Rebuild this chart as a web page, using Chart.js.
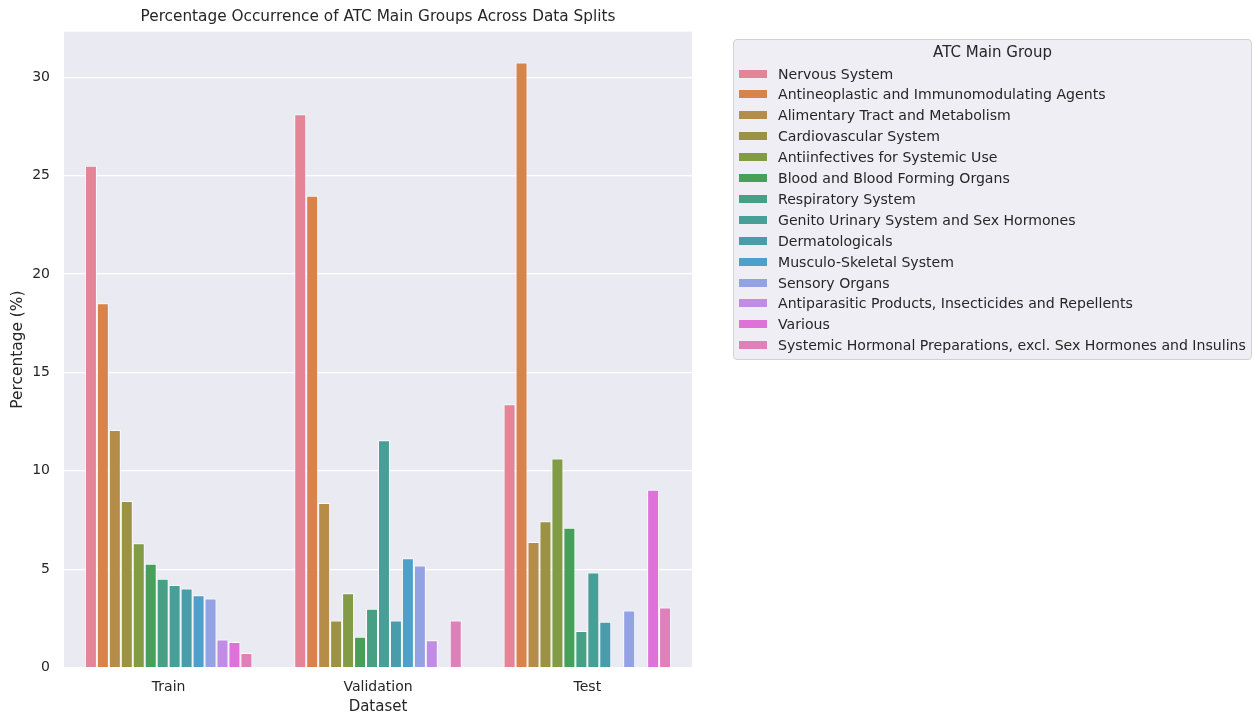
<!DOCTYPE html>
<html>
<head>
<meta charset="utf-8">
<script src="https://cdn.jsdelivr.net/npm/chart.js@4.4.1/dist/chart.umd.min.js"></script>
<style>
  html, body { margin: 0; padding: 0; background: #ffffff; }
  #wrap { position: relative; width: 1254px; height: 715px; }
  #chart { position: absolute; left: 0; top: 0; }
  #legend {
    position: absolute; left: 733px; top: 39px; width: 519px; height: 321px;
    background: #eeeef4; border: 1px solid #d2d2d6; border-radius: 4px;
    box-sizing: border-box; font-family: "DejaVu Sans", sans-serif; color: #262626;
  }
  #legend .ttl { position: absolute; left: 0; right: 0; top: 2px; text-align: center; font-size: 15px; line-height: 20px; }
  #legend .row { position: absolute; left: 0; height: 20px; line-height: 20px; font-size: 14.1px; white-space: nowrap; }
  #legend .sw { position: absolute; left: 5px; top: 6px; width: 28px; height: 8px; }
  #legend .lb { position: absolute; left: 44px; top: 0; }
</style>
</head>
<body>
<div id="wrap">
  <canvas id="chart" width="1254" height="715"></canvas>
  <div id="legend"><div class="ttl">ATC Main Group</div></div>
</div>
<script>
const splits = ["Train", "Validation", "Test"];
const groups = [
  "Nervous System",
  "Antineoplastic and Immunomodulating Agents",
  "Alimentary Tract and Metabolism",
  "Cardiovascular System",
  "Antiinfectives for Systemic Use",
  "Blood and Blood Forming Organs",
  "Respiratory System",
  "Genito Urinary System and Sex Hormones",
  "Dermatologicals",
  "Musculo-Skeletal System",
  "Sensory Organs",
  "Antiparasitic Products, Insecticides and Repellents",
  "Various",
  "Systemic Hormonal Preparations, excl. Sex Hormones and Insulins"
];
// percentage per group, for [Train, Validation, Test]
const trainValues      = [25.50, 18.52, 12.07, 8.46, 6.32, 5.27, 4.51, 4.19, 4.01, 3.67, 3.51, 1.42, 1.30, 0.74];
const validationValues = [28.13, 23.98, 8.36, 2.39, 3.77, 1.56, 2.99, 11.55, 2.39, 5.55, 5.19, 1.38, null, 2.39];
const testValues       = [13.38, 30.76, 6.38, 7.44, 10.63, 7.11, 1.86, 4.83, 2.32, null, 2.90, null, 9.03, 3.05];
const groupColors = [
  "#e58397", "#d8834b", "#b68d48", "#9b9343", "#829b45", "#47a05a", "#47a083",
  "#479f97", "#499dab", "#4f9fcb", "#93a2e3", "#c18ce3", "#df72d9", "#e07fb8"
];
const yTicks = [0, 5, 10, 15, 20, 25, 30];
const chartTitle = "Percentage Occurrence of ATC Main Groups Across Data Splits";

const datasets = groups.map((g, i) => ({
  label: g,
  data: [trainValues[i], validationValues[i], testValues[i]],
  backgroundColor: groupColors[i],
  borderColor: "rgba(255,255,255,0.85)",
  borderWidth: 1,
  categoryPercentage: 0.8,
  barPercentage: 1.0
}));

const FONT = "DejaVu Sans";
const TXT = "#262626";

const bgPlugin = {
  id: "bg",
  beforeDraw(chart) {
    const { ctx, chartArea: a } = chart;
    ctx.save();
    ctx.fillStyle = "#eaeaf2";
    ctx.fillRect(a.left, a.top, a.right - a.left, a.bottom - a.top);
    ctx.restore();
  },
  afterDraw(chart) {
    const { ctx, chartArea: a } = chart;
    ctx.save();
    ctx.fillStyle = TXT;
    ctx.font = "15.3px '" + FONT + "'";
    ctx.textAlign = "center";
    ctx.textBaseline = "middle";
    ctx.fillText(chartTitle, (a.left + a.right) / 2, 17);
    ctx.restore();
  }
};

new Chart(document.getElementById("chart"), {
  type: "bar",
  data: { labels: splits, datasets },
  options: {
    responsive: false,
    animation: false,
    layout: { padding: { left: 0, right: 562, top: 31.7, bottom: 0 } },
    plugins: {
      legend: { display: false },
      tooltip: { enabled: false },
      title: { display: false }
    },
    scales: {
      x: {
        grid: { display: false, drawTicks: false },
        border: { display: false },
        ticks: { color: TXT, font: { family: FONT, size: 14 }, padding: 11 },
        title: { display: true, text: "Dataset", color: TXT, font: { family: FONT, size: 15, lineHeight: 1.1 }, padding: { top: 0, bottom: 0 } },
        afterFit(s) { s.height = 47.5; }
      },
      y: {
        min: 0,
        max: 32.32,
        afterBuildTicks(s) { s.ticks = yTicks.map(v => ({ value: v })); },
        grid: { color: "#ffffff", lineWidth: 1.2, drawTicks: false },
        border: { display: false },
        ticks: { color: TXT, font: { family: FONT, size: 14 }, padding: 14 },
        title: { display: true, text: "Percentage (%)", color: TXT, font: { family: FONT, size: 15.4 }, padding: { top: 9, bottom: 0 } },
        afterFit(s) { s.width = 64; }
      }
    }
  },
  plugins: [bgPlugin]
});

// HTML legend built from the same arrays
const leg = document.getElementById("legend");
groups.forEach((g, i) => {
  const row = document.createElement("div");
  row.className = "row";
  row.style.top = (23.5 + i * 20.9) + "px";
  const sw = document.createElement("span");
  sw.className = "sw";
  sw.style.background = groupColors[i];
  const lb = document.createElement("span");
  lb.className = "lb";
  lb.textContent = g;
  row.appendChild(sw);
  row.appendChild(lb);
  leg.appendChild(row);
});
</script>
</body>
</html>
